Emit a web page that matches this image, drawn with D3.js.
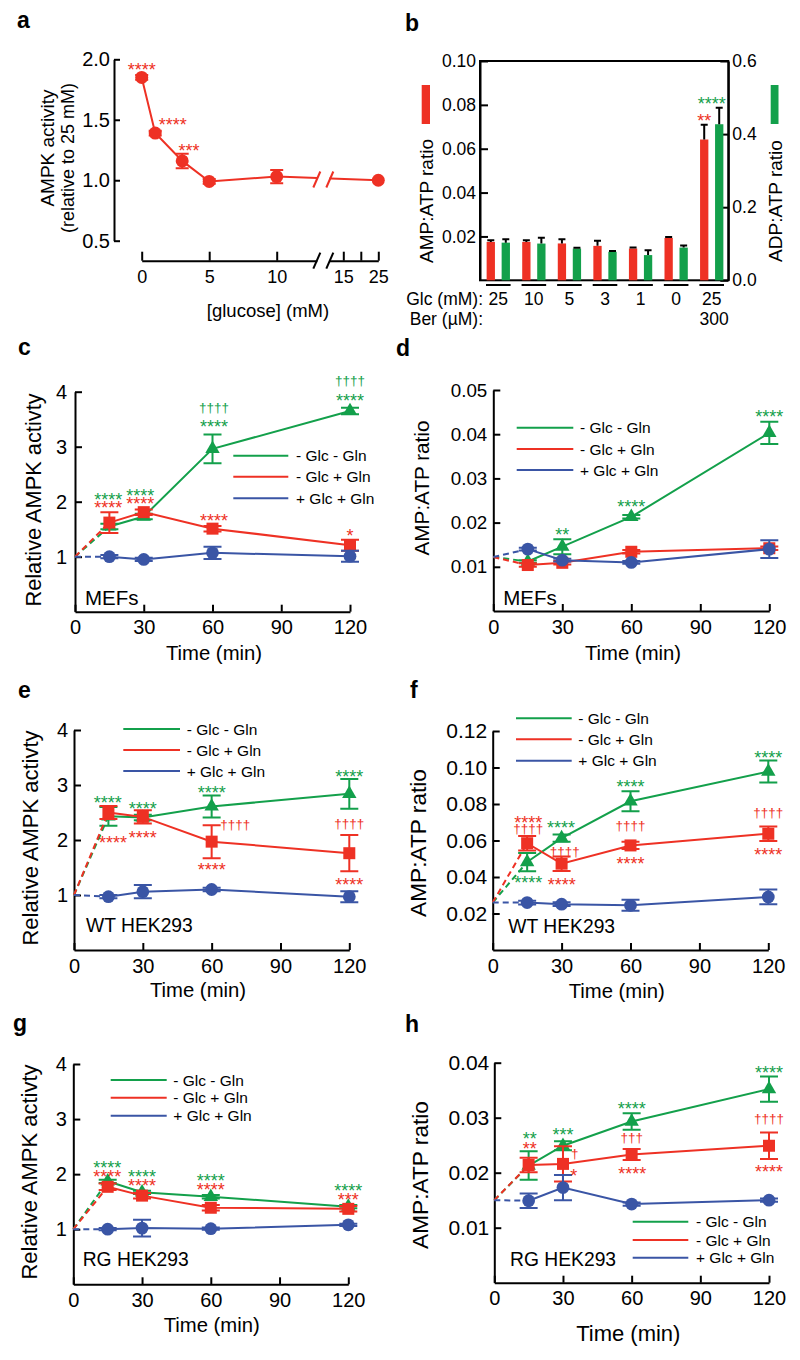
<!DOCTYPE html>
<html>
<head>
<meta charset="utf-8">
<script src="https://cdn.jsdelivr.net/npm/d3@7"></script>
<style>
  body { margin: 0; background: #fff; }
  svg { display: block; font-family: "Liberation Sans", Arial, Helvetica, sans-serif; }
</style>
</head>
<body>
<svg id="fig" width="800" height="1360"></svg>
<script>
const RED = "#ee3124", GREEN = "#13a04b", BLUE = "#3a55a5";

// ---- panel a: AMPK vs glucose
const glcConc = [0, 1, 3, 5, 10, 25];
const ampkA = [1.85, 1.39, 1.16, 0.99, 1.03, 1.00];
const ampkAErr = [0.02, 0.02, 0.06, 0.02, 0.055, 0];
const aTicks = [0, 5, 10, 15, 20, 25];
const aTickLabels = ["0", "5", "10", "15", "", "25"];
const aYTicks = [0.5, 1.0, 1.5, 2.0];
const aNotes = [[0, 1.95, "****"], [2.3, 1.49, "****"], [3.5, 1.275, "***"]];

// ---- panel b: nucleotide ratios
const bGlc = ["25", "10", "5", "3", "1", "0", "25"];
const bBer = ["", "", "", "", "", "", "300"];
const ampAtpB = [0.0175, 0.0175, 0.0168, 0.0157, 0.0145, 0.0193, 0.0642];
const ampAtpBErr = [0.0008, 0.0008, 0.0019, 0.0023, 0.0004, 0.0004, 0.0067];
const adpAtpB = [0.103, 0.1005, 0.0868, 0.078, 0.069, 0.0895, 0.427];
const adpAtpBErr = [0.009, 0.016, 0.002, 0.002, 0.013, 0.006, 0.045];
const bLeftTicks = [0.02, 0.04, 0.06, 0.08, 0.10];
const bRightTicks = [0, 0.2, 0.4, 0.6];

// ---- time courses (c-h)
const timePts = [15, 30, 60, 120];
const timeTicks = [0, 30, 60, 90, 120];
const legendLabels = ["- Glc - Gln", "- Glc + Gln", "+ Glc + Gln"];

// c: MEFs AMPK
const cStart = 1;
const cGreen = [1.55, 1.73, 2.96, 3.65];
const cGreenErr = [0.05, 0.05, 0.26, 0.06];
const cRed = [1.62, 1.81, 1.51, 1.21];
const cRedErr = [0.19, 0.05, 0.05, 0.1];
const cBlue = [1.00, 0.95, 1.07, 1.01];
const cBlueErr = [0.03, 0.03, 0.11, 0.1];
const cNotes = [[14.5, 2.12, "****", 0], [14.5, 1.96, "****", 1], [28.5, 2.18, "****", 0], [28.5, 2.04, "****", 1],
  [60.7, 3.70, "††††", 0], [60.7, 3.43, "****", 0], [60.7, 1.73, "****", 1],
  [120, 4.19, "††††", 0], [120, 3.91, "****", 0], [120, 1.45, "*", 1]];

// d: MEFs AMP:ATP
const dStart = 0.0122;
const dGreen = [0.0112, 0.01455, 0.0213, 0.0403];
const dGreenErr = [0.0003, 0.0017, 0.0004, 0.0025];
const dRed = [0.0104, 0.0109, 0.0134, 0.0142];
const dRedErr = [0.0004, 0.0004, 0.0004, 0.0004];
const dBlue = [0.0140, 0.0115, 0.0110, 0.0140];
const dBlueErr = [0.0003, 0.0003, 0.0003, 0.002];
const dNotes = [[30, 0.0181, "**", 0], [60, 0.0246, "****", 0], [120, 0.0450, "****", 0]];

// e: WT HEK293 AMPK
const eStart = 1;
const eGreen = [2.43, 2.41, 2.61, 2.84];
const eGreenErr = [0.17, 0.05, 0.2, 0.27];
const eRed = [2.50, 2.42, 1.97, 1.76];
const eRedErr = [0.12, 0.12, 0.3, 0.33];
const eBlue = [0.97, 1.06, 1.10, 0.97];
const eBlueErr = [0.03, 0.12, 0.03, 0.1];
const eNotes = [[14.7, 2.75, "****", 0], [17, 2.02, "****", 1], [30, 2.65, "****", 0], [30, 2.12, "****", 1],
  [60, 2.94, "****", 0], [70.3, 2.27, "††††", 1], [60, 1.53, "****", 1],
  [120, 3.22, "****", 0], [120, 2.29, "††††", 1], [120, 1.27, "****", 1]];

// f: WT HEK293 AMP:ATP
const fStart = 0.026;
const fGreen = [0.0482, 0.0613, 0.0815, 0.0978];
const fGreenErr = [0.005, 0.002, 0.0055, 0.006];
const fRed = [0.0585, 0.0473, 0.0573, 0.0637];
const fRedErr = [0.004, 0.004, 0.002, 0.004];
const fBlue = [0.026, 0.0251, 0.0245, 0.0291];
const fBlueErr = [0.001, 0.001, 0.003, 0.004];
const fNotes = [[15.5, 0.0722, "****", 1], [15.5, 0.0662, "††††", 1], [15.5, 0.0394, "****", 0],
  [29.7, 0.0691, "****", 0], [31.4, 0.054, "††††", 1], [30.1, 0.0382, "****", 1],
  [60, 0.0915, "****", 0], [60, 0.0682, "††††", 1], [60, 0.0495, "****", 1],
  [120, 0.1079, "****", 0], [120, 0.0751, "††††", 1], [120, 0.0546, "****", 1]];

// g: RG HEK293 AMPK
const gStart = 1;
const gGreen = [1.87, 1.67, 1.59, 1.41];
const gGreenErr = [0.03, 0.03, 0.03, 0.03];
const gRed = [1.77, 1.61, 1.39, 1.37];
const gRedErr = [0.06, 0.05, 0.05, 0.05];
const gBlue = [1.00, 1.02, 1.01, 1.08];
const gBlueErr = [0.02, 0.15, 0.02, 0.02];
const gNotes = [[14.8, 2.19, "****", 0], [14.8, 2.02, "****", 1], [30, 2.03, "****", 0], [30, 1.87, "****", 1],
  [60, 1.96, "****", 0], [60, 1.80, "****", 1], [120, 1.77, "****", 0], [120, 1.61, "***", 1]];

// h: RG HEK293 AMP:ATP
const hStart = 0.015;
const hGreen = [0.0213, 0.0249, 0.0293, 0.0352];
const hGreenErr = [0.0026, 0.0008, 0.0015, 0.0023];
const hRed = [0.0214, 0.0216, 0.0233, 0.0249];
const hRedErr = [0.0013, 0.0032, 0.001, 0.0024];
const hBlue = [0.0149, 0.0173, 0.0143, 0.0150];
const hBlueErr = [0.0013, 0.0023, 0.0003, 0.0003];
const hNotes = [[15.5, 0.0269, "**", 0], [15.5, 0.0252, "**", 1], [30, 0.0276, "***", 0],
  [35.1, 0.0235, "†", 1], [34.7, 0.0202, "*", 1],
  [60, 0.0324, "****", 0], [60, 0.0264, "†††", 1], [60.3, 0.0206, "****", 1],
  [120, 0.0389, "****", 0], [120, 0.0297, "††††", 1], [120, 0.021, "****", 1]];

const svg = d3.select("#fig");
const noteColors = [GREEN, RED, BLUE];

function styleAxis(sel, fs) {
  sel.attr("font-size", null).attr("font-family", null);
  sel.select(".domain").attr("stroke", "#000").attr("stroke-width", 2);
  sel.selectAll(".tick line").attr("stroke", "#000").attr("stroke-width", 2);
  sel.selectAll(".tick text").attr("fill", "#000").attr("font-size", fs);
}

function text(g, x, y, txt, fs, opts) {
  opts = opts || {};
  const t = g.append("text")
    .attr("x", x).attr("y", y)
    .attr("font-size", fs)
    .attr("fill", opts.color || "#000")
    .attr("text-anchor", opts.anchor || "start")
    .attr("dy", opts.dy || "0.36em")
    .text(txt);
  if (opts.bold) t.attr("font-weight", "bold");
  return t;
}

function vlabel(g, cx, cy, txt, fs) {
  g.append("text")
    .attr("transform", `translate(${cx},${cy}) rotate(-90)`)
    .attr("text-anchor", "middle").attr("dy", "0.35em")
    .attr("font-size", fs).text(txt);
}

function note(g, px, py, txt, color) {
  const star = txt[0] === "*";
  g.append("text")
    .attr("x", px).attr("y", py)
    .attr("dy", star ? "0.58em" : "0.3em")
    .attr("text-anchor", "middle")
    .attr("font-size", star ? 18 : 13.5)
    .attr("fill", color)
    .text(txt);
}

// panel letters
[["a", 17, 28], ["b", 405, 31], ["c", 18, 355], ["d", 396, 356], ["e", 18, 698], ["f", 410, 698], ["g", 13, 1031], ["h", 405, 1032]]
  .forEach(l => text(svg, l[1], l[2], l[0], 23, {bold: true, dy: "0"}));

// ================= panel a
(function () {
  const g = svg.append("g");
  const x = d3.scaleLinear().domain([0, 10, 15, 25]).range([141.7, 276.7, 343.3, 378.3]);
  const y = d3.scaleLinear().domain([0.5, 2.0]).range([240.7, 59.3]);
  const breakAt = 13.5;

  const ya = g.append("g").attr("transform", "translate(114,0)")
    .call(d3.axisLeft(y).tickValues(aYTicks).tickFormat(d3.format(".1f")).tickSizeInner(-6).tickSizeOuter(0).tickPadding(4));
  styleAxis(ya, 20);
  const xa = g.append("g").attr("transform", "translate(0,260.7)")
    .call(d3.axisBottom(x).tickValues(aTicks).tickFormat((d, i) => aTickLabels[i]).tickSizeInner(-9).tickSizeOuter(0).tickPadding(10));
  styleAxis(xa, 18);

  const pts = d3.zip(glcConc, ampkA);
  g.append("path").attr("d", d3.line().x(d => x(d[0])).y(d => y(d[1]))(pts))
    .attr("fill", "none").attr("stroke", RED).attr("stroke-width", 2);

  // axis break on both the data line and the x axis
  const bx = x(breakAt);
  g.append("rect").attr("x", bx - 6).attr("y", 160).attr("width", 12).attr("height", 30).attr("fill", "#fff");
  g.append("rect").attr("x", bx - 6).attr("y", 252).attr("width", 12).attr("height", 16).attr("fill", "#fff");
  [[179.5, 8], [260.7, 8]].forEach(b => {
    [-6.5, 6.5].forEach(o => {
      g.append("line").attr("x1", bx + o - 3.5).attr("x2", bx + o + 3.5)
        .attr("y1", b[0] + b[1]).attr("y2", b[0] - b[1])
        .attr("stroke", b[0] > 200 ? "#000" : RED).attr("stroke-width", 2);
    });
  });

  pts.forEach((d, i) => {
    if (!ampkAErr[i]) return;
    const cx = x(d[0]), lo = y(d[1] - ampkAErr[i]), hi = y(d[1] + ampkAErr[i]);
    g.append("path").attr("d", `M${cx},${lo}V${hi}M${cx - 6.5},${lo}h13M${cx - 6.5},${hi}h13`)
      .attr("stroke", RED).attr("stroke-width", 2);
  });
  g.selectAll(null).data(pts).join("circle")
    .attr("cx", d => x(d[0])).attr("cy", d => y(d[1])).attr("r", 6.5).attr("fill", RED);

  aNotes.forEach(n => note(g, x(n[0]), y(n[1]), n[2], RED));

  vlabel(g, 47.5, 148, "AMPK activity", 19);
  vlabel(g, 67.5, 158, "(relative to 25 mM)", 18);
  text(g, 268, 310, "[glucose] (mM)", 18.5, {anchor: "middle"});
})();

// ================= panel b
(function () {
  const g = svg.append("g");
  const x = d3.scaleBand().domain(d3.range(bGlc.length)).range([480.5, 729.5]);
  const yL = d3.scaleLinear().domain([0, 0.1]).range([280.3, 61]);
  const yR = d3.scaleLinear().domain([0, 0.6]).range([280.3, 61]);
  const bw = 8.3, off = 7.5;

  const la = g.append("g").attr("transform", "translate(480,0)")
    .call(d3.axisLeft(yL).tickValues(bLeftTicks).tickFormat(d3.format(".2f")).tickSizeInner(-8).tickSizeOuter(0).tickPadding(4));
  styleAxis(la, 17.5);
  const ra = g.append("g").attr("transform", "translate(728.3,0)")
    .call(d3.axisRight(yR).tickValues(bRightTicks).tickFormat(d3.format(".1f")).tickSizeInner(-8).tickSizeOuter(0).tickPadding(4));
  styleAxis(ra, 17.5);
  g.append("rect").attr("x", 480).attr("y", 61).attr("width", 248.3).attr("height", 219.3)
    .attr("fill", "none").attr("stroke", "#000").attr("stroke-width", 2);

  const c = i => x(i) + x.bandwidth() / 2;
  ampAtpB.forEach((v, i) => {
    g.append("rect").attr("x", c(i) - off - bw / 2).attr("y", yL(v)).attr("width", bw).attr("height", yL(0) - yL(v)).attr("fill", RED);
    g.append("rect").attr("x", c(i) + off - bw / 2).attr("y", yR(adpAtpB[i])).attr("width", bw).attr("height", yR(0) - yR(adpAtpB[i])).attr("fill", GREEN);
    const e1 = yL(v + ampAtpBErr[i]), e2 = yR(adpAtpB[i] + adpAtpBErr[i]);
    g.append("path").attr("d", `M${c(i) - off},${yL(v)}V${e1}M${c(i) - off - 3.5},${e1}h7`).attr("stroke", "#000").attr("stroke-width", 2);
    g.append("path").attr("d", `M${c(i) + off},${yR(adpAtpB[i])}V${e2}M${c(i) + off - 3.5},${e2}h7`).attr("stroke", "#000").attr("stroke-width", 2);
    g.append("line").attr("x1", c(i) - 12.3).attr("x2", c(i) + 12.3).attr("y1", 285).attr("y2", 285).attr("stroke", "#000").attr("stroke-width", 2);
    text(g, c(i), 298.3, bGlc[i], 17.5, {anchor: "middle"});
    if (bBer[i]) text(g, c(i) + 2.5, 319, bBer[i], 17.5, {anchor: "middle"});
  });
  note(g, c(6), yL(0.0826), "****", GREEN);
  note(g, c(6) - off, yL(0.0747), "**", RED);

  text(g, 483, 298.3, "Glc (mM):", 17.5, {anchor: "end"});
  text(g, 483, 319, "Ber (\u00b5M):", 17.5, {anchor: "end"});

  g.append("rect").attr("x", 421.7).attr("y", 85).attr("width", 8.3).attr("height", 39).attr("fill", RED);
  g.append("rect").attr("x", 770.7).attr("y", 85).attr("width", 7.8).attr("height", 39).attr("fill", GREEN);
  vlabel(g, 426, 201, "AMP:ATP ratio", 19);
  vlabel(g, 775, 201, "ADP:ATP ratio", 19);
})();

// ================= time-course panels
function timePanel(p) {
  const g = svg.append("g");
  const x = d3.scaleLinear().domain([0, 120]).range([p.x0, p.x1]);
  const y = d3.scaleLinear().domain([0, p.yMax]).range([p.yb, p.yt]);

  const xa = g.append("g").attr("transform", `translate(0,${p.yb})`)
    .call(d3.axisBottom(x).tickValues(timeTicks).tickSizeInner(-7).tickSizeOuter(0).tickPadding(8.5));
  styleAxis(xa, 20);
  const ya = g.append("g").attr("transform", `translate(${p.x0},0)`)
    .call(d3.axisLeft(y).tickValues(p.yTicks).tickFormat(p.fmt).tickSizeInner(-7).tickSizeOuter(0).tickPadding(p.pad));
  styleAxis(ya, p.yfs);

  const series = [
    {v: p.green, e: p.greenErr, c: GREEN, sym: d3.symbolTriangle, size: 90},
    {v: p.red, e: p.redErr, c: RED, sym: d3.symbolSquare, size: 144},
    {v: p.blue, e: p.blueErr, c: BLUE, sym: d3.symbolCircle, size: 128}
  ];
  const line = d3.line().x(d => x(d[0])).y(d => y(d[1]));

  series.forEach(s => {
    const pts = d3.zip(timePts, s.v);
    g.append("path").attr("d", line([[0, p.start], pts[0]]))
      .attr("fill", "none").attr("stroke", s.c).attr("stroke-width", 2).attr("stroke-dasharray", "6,4");
    g.append("path").attr("d", line(pts))
      .attr("fill", "none").attr("stroke", s.c).attr("stroke-width", 2);
    pts.forEach((d, i) => {
      const cx = x(d[0]), lo = y(d[1] - s.e[i]), hi = y(d[1] + s.e[i]);
      g.append("path").attr("d", `M${cx},${lo}V${hi}M${cx - 9},${lo}h18M${cx - 9},${hi}h18`)
        .attr("stroke", s.c).attr("stroke-width", 2).attr("fill", "none");
    });
    g.selectAll(null).data(pts).join("path")
      .attr("transform", d => `translate(${x(d[0])},${y(d[1])})`)
      .attr("d", d3.symbol(s.sym, s.size)).attr("fill", s.c);
  });

  p.notes.forEach(n => note(g, x(n[0]), y(n[1]), n[2], noteColors[n[3]]));

  legendLabels.forEach((t, i) => {
    g.append("line").attr("x1", p.legX[0]).attr("x2", p.legX[1]).attr("y1", p.legY[i]).attr("y2", p.legY[i])
      .attr("stroke", noteColors[i]).attr("stroke-width", 2);
    text(g, p.legX[2], p.legY[i], t, 15.5);
  });

  text(g, p.tag[0], p.tag[1], p.tag[2], p.tag[3]);
  text(g, p.xl[0], p.xl[1], "Time (min)", p.xl[2], {anchor: "middle"});
  vlabel(g, p.yl[0], p.yl[1], p.yl[2], p.yl[3]);
}

const intFmt = d3.format("d");
timePanel({x0: 75, x1: 350, yb: 611.7, yt: 391.7, yMax: 4, yTicks: [1, 2, 3, 4], fmt: intFmt, pad: 8, yfs: 20,
  start: cStart, green: cGreen, greenErr: cGreenErr, red: cRed, redErr: cRedErr, blue: cBlue, blueErr: cBlueErr,
  notes: cNotes, legX: [233.3, 288.3, 296], legY: [455.7, 476.7, 498.3],
  tag: [85, 597.7, "MEFs", 20.5], xl: [214, 653, 20.3], yl: [33.3, 500, "Relative AMPK activty", 21.8]});

timePanel({x0: 493.3, x1: 769.3, yb: 611, yt: 390, yMax: 0.05, yTicks: [0.01, 0.02, 0.03, 0.04, 0.05], fmt: d3.format(".2f"), pad: 6, yfs: 18.8,
  start: dStart, green: dGreen, greenErr: dGreenErr, red: dRed, redErr: dRedErr, blue: dBlue, blueErr: dBlueErr,
  notes: dNotes, legX: [516.7, 573.3, 580], legY: [427.7, 449, 470],
  tag: [503.3, 597.7, "MEFs", 20.5], xl: [633, 653, 20.3], yl: [421.7, 488, "AMP:ATP ratio", 20.7]});

timePanel({x0: 74, x1: 349.3, yb: 950, yt: 730, yMax: 4, yTicks: [1, 2, 3, 4], fmt: intFmt, pad: 6, yfs: 20,
  start: eStart, green: eGreen, greenErr: eGreenErr, red: eRed, redErr: eRedErr, blue: eBlue, blueErr: eBlueErr,
  notes: eNotes, legX: [123.3, 180, 186.7], legY: [729, 750, 771],
  tag: [86, 925, "WT HEK293", 19.3], xl: [198, 990, 20.3], yl: [30, 838, "Relative AMPK activty", 22]});

timePanel({x0: 492.7, x1: 768.3, yb: 950, yt: 731, yMax: 0.12, yTicks: [0.02, 0.04, 0.06, 0.08, 0.10, 0.12], fmt: d3.format(".2f"), pad: 5.5, yfs: 21,
  start: fStart, green: fGreen, greenErr: fGreenErr, red: fRed, redErr: fRedErr, blue: fBlue, blueErr: fBlueErr,
  notes: fNotes, legX: [516, 571.7, 578.3], legY: [718.3, 739.3, 760.7],
  tag: [508.3, 925.7, "WT HEK293", 19.3], xl: [616.7, 990.7, 20.3], yl: [418.3, 843, "AMP:ATP ratio", 22.7]});

timePanel({x0: 73.3, x1: 348.3, yb: 1284.3, yt: 1064, yMax: 4, yTicks: [1, 2, 3, 4], fmt: intFmt, pad: 6.5, yfs: 20,
  start: gStart, green: gGreen, greenErr: gGreenErr, red: gRed, redErr: gRedErr, blue: gBlue, blueErr: gBlueErr,
  notes: gNotes, legX: [110.7, 166.7, 173.3], legY: [1080, 1097.7, 1115.7],
  tag: [82.7, 1259.3, "RG HEK293", 19.3], xl: [211.7, 1325, 20.3], yl: [29.3, 1172, "Relative AMPK activty", 22]});

timePanel({x0: 494.3, x1: 769, yb: 1282.7, yt: 1062.7, yMax: 0.04, yTicks: [0.01, 0.02, 0.03, 0.04], fmt: d3.format(".2f"), pad: 5, yfs: 21,
  start: hStart, green: hGreen, greenErr: hGreenErr, red: hRed, redErr: hRedErr, blue: hBlue, blueErr: hBlueErr,
  notes: hNotes, legX: [632.7, 688.3, 696], legY: [1221.7, 1240, 1257.7],
  tag: [510, 1259.3, "RG HEK293", 19.3], xl: [628.3, 1333.3, 22], yl: [420, 1175, "AMP:ATP ratio", 22.7]});
</script>
</body>
</html>
